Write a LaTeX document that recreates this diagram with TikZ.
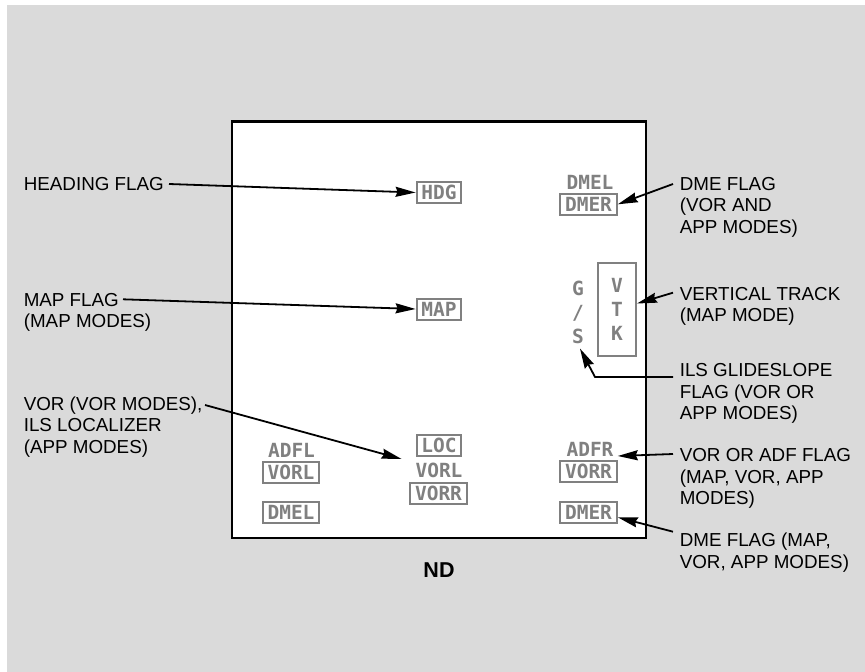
\documentclass[tikz,border=0pt]{standalone}
\usepackage{fontspec}
\setmainfont{Liberation Sans}
\newfontfamily\flagfont{DejaVu Sans Mono}
\usetikzlibrary{arrows.meta,calc}
\definecolor{flaggray}{RGB}{128,128,128}
\definecolor{panelgray}{RGB}{218,218,218}
\tikzset{
    % grey flag letters on the display
    flagtext/.style={
        inner sep=0pt,
        text=flaggray,
        font=\flagfont\bfseries\fontsize{19.5}{24}\selectfont
    },
    flagbox/.style={
        flagtext,
        draw=flaggray,
        line width=2pt,
        inner xsep=4.8pt,
        inner ysep=3.4pt,
        text height=14.2pt,
        text depth=0pt
    },
    labeltext/.style={
        inner sep=0pt,
        anchor=north west,
        align=left,
        font=\fontsize{18.8}{21.7}\selectfont
    },
    pointer/.style={
        line width=1.8pt,
        -{Stealth[length=20pt,width=10pt,inset=2pt]}
    }
}
\begin{document}
\begin{tikzpicture}[x=1pt,y=-1pt]
    \useasboundingbox (0,0) rectangle (865,672);
    \fill[panelgray] (7,5) rectangle (865,672);

    % display
    \draw[line width=2.3pt,fill=white] (232,121.5) rectangle (646,538);
    \node[font=\bfseries\fontsize{21.5}{24}\selectfont] (nd) at (439,570) {ND};

    % flags
    \node[flagbox] (hdg) at (439,192.5) {HDG};
    \node[flagbox] (map) at (439,309) {MAP};
    \node[flagtext] (dmelt) at (590,182) {DMEL};
    \node[flagbox] (dmert) at (588.5,204.3) {DMER};
    \node[flagtext,align=center] (gs) at (578,312) {G\\/\\S};
    \node[flagtext,draw=flaggray,line width=2pt,align=center,
          minimum width=38pt,minimum height=93pt] (vtk) at (617,309.5) {V\\T\\K};

    \node[flagtext] (adfl) at (291.5,450) {ADFL};
    \node[flagbox] (vorll) at (291,472.3) {VORL};
    \node[flagbox] (dmell) at (291,512) {DMEL};

    \node[flagbox] (loc) at (439,445.5) {LOC};
    \node[flagtext] (vorlc) at (439,470) {VORL};
    \node[flagbox] (vorrc) at (438.5,493) {VORR};

    \node[flagtext] (adfr) at (590,449.5) {ADFR};
    \node[flagbox] (vorrr) at (588.5,471.5) {VORR};
    \node[flagbox] (dmerr) at (588.5,512.3) {DMER};

    % left labels
    \node[labeltext] (hdglabel) at (23.6,177.3) {HEADING FLAG};
    \node[labeltext] (maplabel) at (23.6,292.7) {MAP FLAG\\(MAP MODES)};
    \node[labeltext] (vorlabel) at (23.6,396.4) {VOR (VOR MODES),\\ILS LOCALIZER\\(APP MODES)};

    % right labels
    \node[labeltext] (dmelabel) at (679.6,176.7) {DME FLAG\\(VOR AND\\APP MODES)};
    \node[labeltext] (vtklabel) at (679.6,286.7) {VERTICAL TRACK\\(MAP MODE)};
    \node[labeltext] (ilslabel) at (679.6,363) {ILS GLIDESLOPE\\FLAG (VOR OR\\APP MODES)};
    \node[labeltext] (adflabel) at (679.6,448) {VOR OR ADF FLAG\\(MAP, VOR, APP\\MODES)};
    \node[labeltext] (dmeblabel) at (679.6,533) {DME FLAG (MAP,\\VOR, APP MODES)};

    % line starts
    \coordinate (hdgend) at (169,184);
    \coordinate (mapend) at (123,299.3);
    \coordinate (vorend) at (205,405);
    \coordinate (dmeend) at (673,184);
    \coordinate (vtkend) at (673,292.7);
    \coordinate (ilsend) at (673,377);
    \coordinate (adfend) at (673,454);
    \coordinate (dmebend) at (673,531.7);

    % pointers
    \draw[pointer] (hdgend) -- (hdg.west);
    \draw[pointer] (mapend) -- (map.west);
    \draw[pointer] (vorend) -- ($(loc.south west)+(-14,2)$);
    \draw[pointer] (dmeend) -- (dmert.east);
    \draw[pointer] (vtkend) -- ($(vtk.east)+(0,-6)$);
    \draw[pointer] (ilsend) -- ++(-78,0) -- ($(gs.south)+(2,5)$);
    \draw[pointer] (adfend) -- ($(vorrr.north east)+(0,-4)$);
    \draw[pointer] (dmebend) -- ($(dmerr.east)+(0,5)$);
\end{tikzpicture}
\end{document}
